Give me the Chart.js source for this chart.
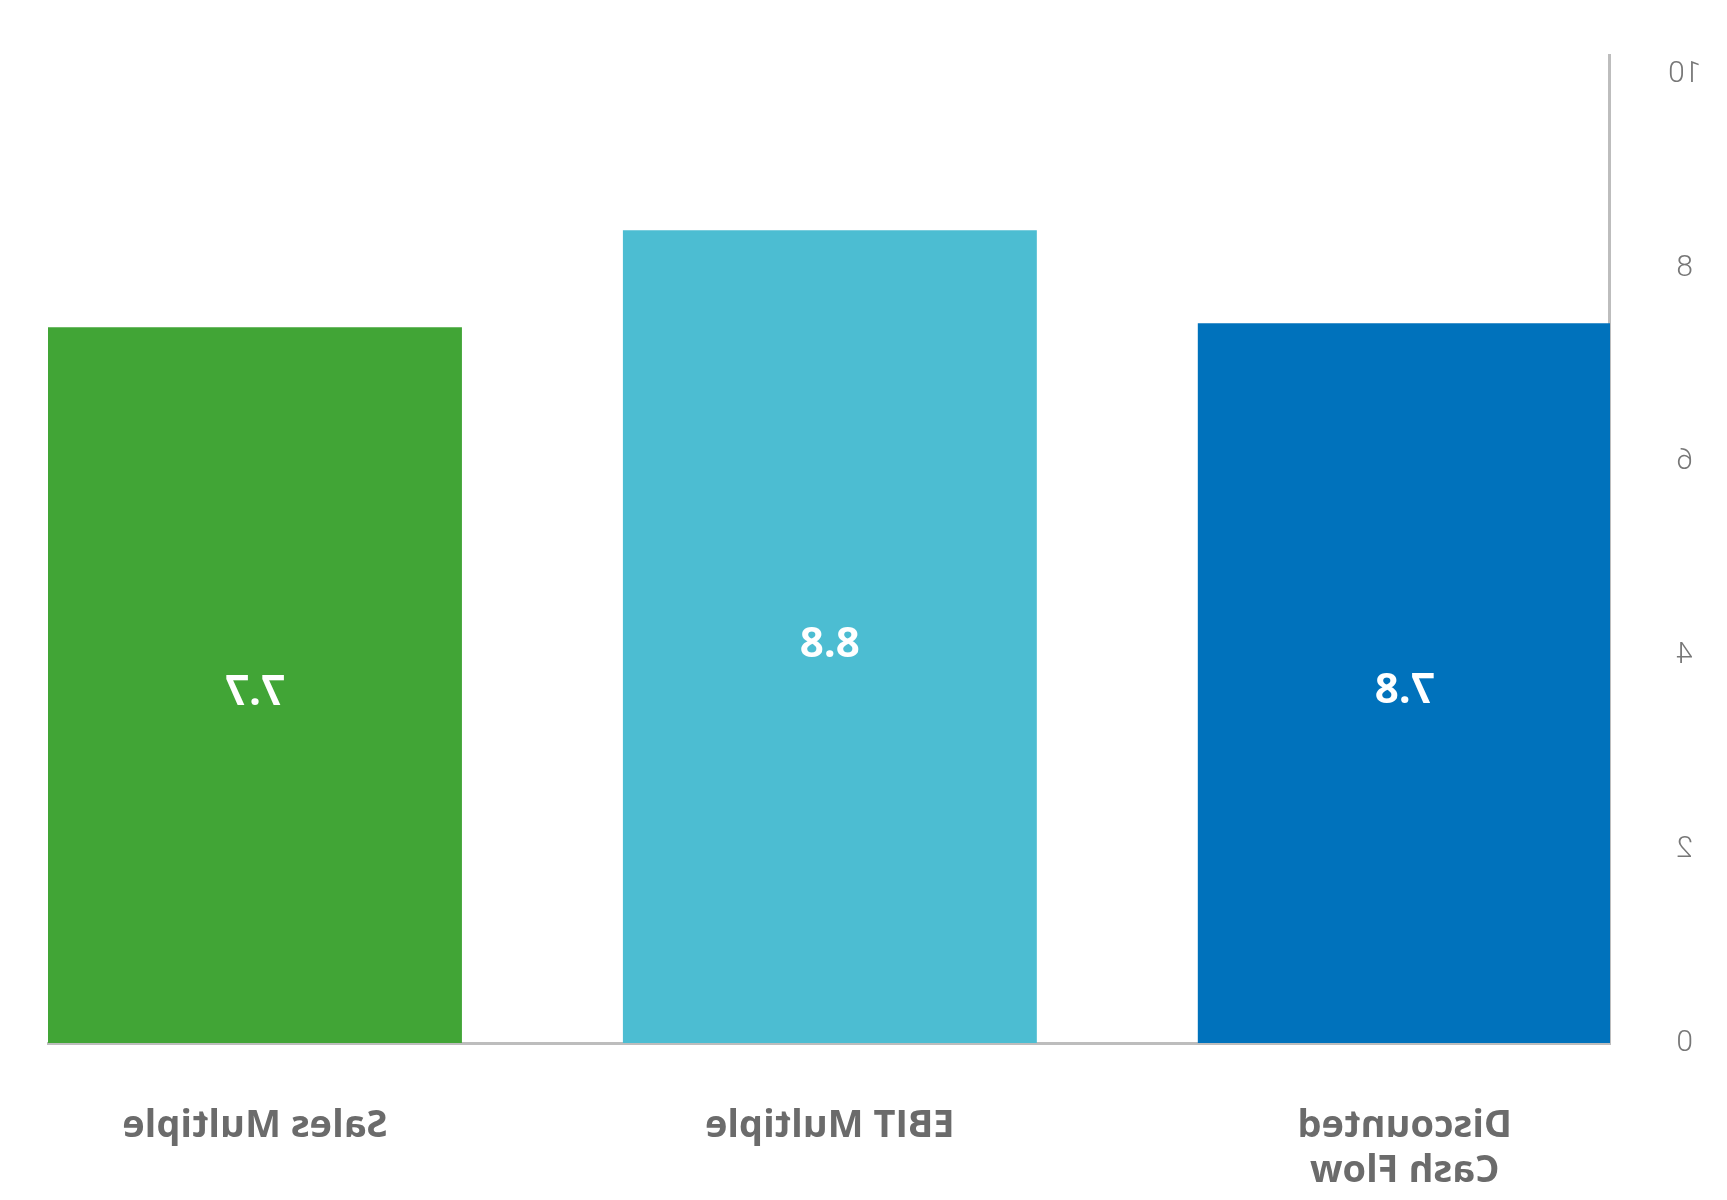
<!DOCTYPE html>
<html>
<head>
<meta charset="utf-8">
<title>Valuation methods</title>
<script src="https://cdn.jsdelivr.net/npm/chart.js@4"></script>
<style>
  html, body { margin: 0; padding: 0; background: #fff; }
  #wrap { width: 1727px; height: 1200px; position: relative; }
  /* the reference picture is a mirror image of the chart */
  #chart { transform: scaleX(-1); }
</style>
</head>
<body>
<div id="wrap"><canvas id="chart"></canvas></div>
<script>
"use strict";

// categories in the chart's own (unmirrored) order, left to right
const categories = [["Discounted", "Cash Flow"], "EBIT Multiple", "Sales Multiple"];
const values = [7.43, 8.39, 7.39];          // bar heights read against the axis
const valueLabels = ["7.8", "8.8", "7.7"];  // figures printed inside the bars
const barColors = ["#0072bc", "#4cbdd2", "#41a536"];
const yTicks = [0, 2, 4, 6, 8, 10];

const GREY_AXIS = "#bdbdbd";

// white figure in the middle of each bar
const barLabels = {
  id: "barLabels",
  afterDatasetsDraw(chart) {
    const { ctx } = chart;
    const meta = chart.getDatasetMeta(0);
    ctx.save();
    ctx.fillStyle = "#fff";
    ctx.font = "bold 42px 'Open Sans', sans-serif";
    ctx.textAlign = "center";
    ctx.textBaseline = "middle";
    meta.data.forEach((bar, i) => {
      ctx.fillText(valueLabels[i], bar.x, (bar.y + bar.base) / 2 + 8);
    });
    ctx.restore();
  }
};

new Chart(document.getElementById("chart"), {
  type: "bar",
  data: {
    datasets: [{
      data: values.map((v, i) => ({ x: i, y: v })),
      backgroundColor: barColors,
      borderWidth: 0,
      categoryPercentage: 1,
      barPercentage: 0.72,
    }]
  },
  options: {
    responsive: true, maintainAspectRatio: false,
    animation: false,
    devicePixelRatio: 1,
    layout: { padding: { top: 55, right: 48, left: 0, bottom: 0 } },
    plugins: { legend: { display: false }, tooltip: { enabled: false } },
    scales: {
      x: {
        type: "linear", offset: false,
        min: -0.357, max: 2.36,
        afterBuildTicks: s => { s.ticks = categories.map((c, i) => ({ value: i })); },
        afterFit: s => { s.height = 157; },
        grid: { display: false, drawTicks: false },
        border: { display: true, color: GREY_AXIS, width: 3 },
        ticks: {
          padding: 61,
          color: "#6b6b6b",
          font: { family: "'Open Sans', sans-serif", size: 38, weight: "bold", lineHeight: 1.17 },
          maxRotation: 0,
          callback: v => categories[v] ?? "",
        },
      },
      y: {
        min: 0, max: 10.2,
        afterBuildTicks: s => { s.ticks = yTicks.map(v => ({ value: v })); },
        // big tick padding is only for the horizontal gap, not the vertical margins
        afterFit: s => { s.width = 117; s.paddingTop = 0; s.paddingBottom = 0; },
        grid: { display: false, drawTicks: false },
        border: { display: true, color: GREY_AXIS, width: 3 },
        ticks: {
          padding: 58,
          crossAlign: "center",
          color: "#777777",
          font: { family: "Roboto, sans-serif", size: 30, weight: 300 },
        },
      },
    },
  },
  plugins: [barLabels],
});
</script>
</body>
</html>
